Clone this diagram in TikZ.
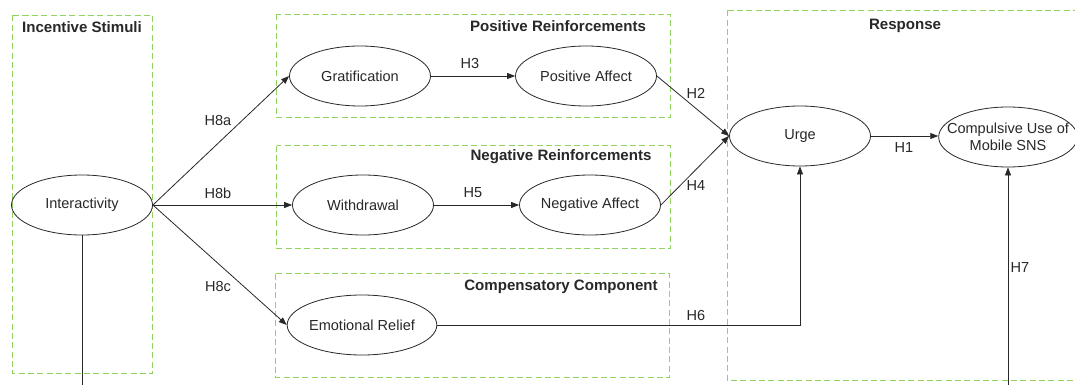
\documentclass[tikz,border=0pt]{standalone}
\usepackage{fontspec}
\setmainfont{Liberation Sans}
\usetikzlibrary{shapes.geometric,arrows.meta}
\definecolor{grpgreen}{RGB}{146,210,96}
\definecolor{ink}{RGB}{40,40,40}
\begin{document}
\begin{tikzpicture}[x=0.75pt,y=-0.75pt,
  ell/.style={draw=ink, line width=0.6pt, ellipse, inner sep=0pt,
    minimum width=105.75pt, minimum height=45pt, align=center,
    font=\fontsize{10.9}{12.75}\selectfont, text=ink},
  grp/.style={draw=grpgreen, line width=0.75pt, dash pattern=on 4.5pt off 2.5pt},
  ttl/.style={font=\bfseries\fontsize{11.3}{13}\selectfont, text=ink, inner sep=0pt},
  lbl/.style={font=\fontsize{10.9}{13}\selectfont, text=ink, inner sep=0pt},
  arr/.style={draw=ink, line width=0.6pt, -{Triangle[length=6pt,width=4.5pt]}}
]
\clip (0,0) rectangle (1075,385);
\fill[white] (0,0) rectangle (1075,385);

% group frames
\draw[grp] (12.5,15.5) rectangle (152.5,373.5);
\draw[grp] (276.5,14.5) rectangle (670.5,117.5);
\draw[grp] (276.5,145.5) rectangle (670.5,248.5);
\draw[grp] (275.5,273.5) rectangle (669.5,377.5);
\draw[grp] (727.5,10.5) -- (1090,10.5);
\draw[grp] (727.5,10.5) -- (727.5,380.5) -- (1090,380.5);

% titles
\node[ttl] (tIS) at (82,27) {Incentive Stimuli};
\node[ttl] (tPR) at (558,26) {Positive Reinforcements};
\node[ttl] (tNR) at (561,157) {Negative Reinforcements};
\node[ttl] (tCC) at (561,287) {Compensatory Component};
\node[ttl] (tRE) at (905,26) {Response};

% constructs
\node[ell] (inter) at (82,205) {Interactivity};
\node[ell] (grat) at (360,76) {Gratification};
\node[ell] (pa) at (586,76) {Positive Affect};
\node[ell] (wd) at (363,205) {Withdrawal};
\node[ell] (na) at (590,205) {Negative Affect};
\node[ell] (er) at (362,325) {Emotional Relief};
\node[ell] (urge) at (800,136) {Urge};
\node[ell, minimum width=104pt, inner xsep=-9pt] (comp) at (1008,137) {Compulsive Use of\\Mobile SNS};

\coordinate (b1) at (82,400);
\coordinate (b2) at (1008,400);

% connectors
\draw[arr] (inter.east) -- (grat.west);
\draw[arr] (inter.east) -- (wd.west);
\draw[arr] (inter.east) -- (er.west);
\draw[arr] (grat.east) -- (pa.west);
\draw[arr] (wd.east) -- (na.west);
\draw[arr] (pa.east) -- (urge.west);
\draw[arr] (na.east) -- (urge.west);
\draw[arr] (er.east) -| (urge.south);
\draw[arr] (urge.east) -- (urge.east -| comp.west);
\draw[arr] (inter.south) -- (b1) -- (b2) -- (comp.south);

% labels
\node[lbl] (h8a) at (218,120) {H8a};
\node[lbl] (h8b) at (218,193) {H8b};
\node[lbl] (h8c) at (218,286) {H8c};
\node[lbl] (h3) at (470,63) {H3};
\node[lbl] (h5) at (473,193) {H5};
\node[lbl] (h2) at (696,93) {H2};
\node[lbl] (h4) at (696,185) {H4};
\node[lbl] (h6) at (696,315) {H6};
\node[lbl] (h1) at (904,148) {H1};
\node[lbl] (h7) at (1020,267) {H7};
\end{tikzpicture}
\end{document}
